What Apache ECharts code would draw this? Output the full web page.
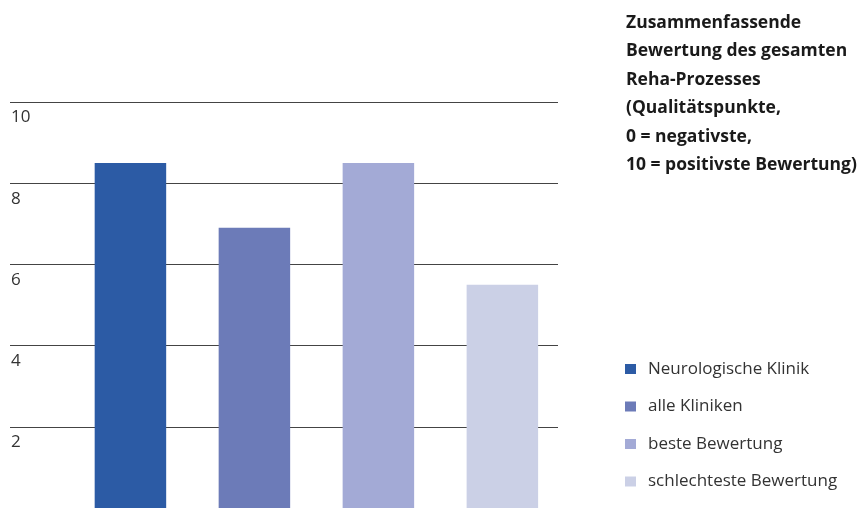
<!DOCTYPE html>
<html>
<head>
<meta charset="utf-8">
<script src="https://cdn.jsdelivr.net/npm/echarts@6/dist/echarts.min.js"></script>
<style>
  html, body { margin: 0; padding: 0; background: #fff; }
  #chart { width: 868px; height: 508px; }
</style>
</head>
<body>
<div id="chart"></div>
<script>
// series names, values (Qualitätspunkte) and colours
const seriesNames = ['Neurologische Klinik', 'alle Kliniken', 'beste Bewertung', 'schlechteste Bewertung']
const seriesValues = [8.5, 6.9, 8.5, 5.5]
const seriesColors = ['#2c5ba5', '#6c7bb8', '#a3aad6', '#cbd0e6']
const yTicks = [0, 2, 4, 6, 8, 10]
const titleLines = [
  'Zusammenfassende',
  'Bewertung des gesamten',
  'Reha-Prozesses',
  '(Qualitätspunkte,',
  '0 = negativste,',
  '10 = positivste Bewertung)'
]

const chart = echarts.init(document.getElementById('chart'), null, { renderer: 'canvas' })
const font = '"Open Sans", "Noto Sans", sans-serif'

const option = {
  animation: false,
  backgroundColor: '#fff',
  title: {
    text: titleLines.join('\n'),
    left: 621,
    top: 3.5,
    textStyle: { fontFamily: font, fontSize: 17.5, fontWeight: 'bold', color: '#1a1a1a', lineHeight: 28.5 }
  },
  legend: {
    orient: 'vertical',
    left: 620,
    top: 354,
    icon: 'rect',
    itemWidth: 11,
    itemHeight: 10,
    itemGap: 17.5,
    data: seriesNames,
    textStyle: { fontFamily: font, fontSize: 17, color: '#333', lineHeight: 20, padding: [0, 0, 0, 7] }
  },
  grid: [
    // axis / gridline grid
    { left: 10, top: 102, width: 548, height: 408 },
    // bar grid, shifted so the bar group sits where the reference has it
    { left: 10, top: 102, width: 612.8, height: 408 }
  ],
  xAxis: [
    { type: 'category', gridIndex: 0, data: [''], show: false },
    { type: 'category', gridIndex: 1, data: [''], show: false }
  ],
  yAxis: [
    {
      type: 'value', gridIndex: 0,
      min: yTicks[0], max: yTicks[yTicks.length - 1], interval: 2,
      axisLine: { show: false },
      axisTick: { show: false },
      axisLabel: {
        inside: true,
        margin: 1,
        verticalAlign: 'top',
        padding: [7, 0, 0, 0],
        fontFamily: font,
        fontSize: 17,
        color: '#333',
        formatter: v => (v === 0 ? '' : String(v))
      },
      splitLine: { lineStyle: { color: '#444', width: 1 } }
    },
    {
      type: 'value', gridIndex: 1,
      min: yTicks[0], max: yTicks[yTicks.length - 1],
      show: false,
      splitLine: { show: false }
    }
  ],
  series: seriesNames.map((name, i) => ({
    name,
    type: 'bar',
    xAxisIndex: 1,
    yAxisIndex: 1,
    data: [seriesValues[i]],
    barWidth: 71.5,
    barGap: '73.4%',
    itemStyle: { color: seriesColors[i] },
    z: 3
  }))
}

chart.setOption(option)
</script>
</body>
</html>
